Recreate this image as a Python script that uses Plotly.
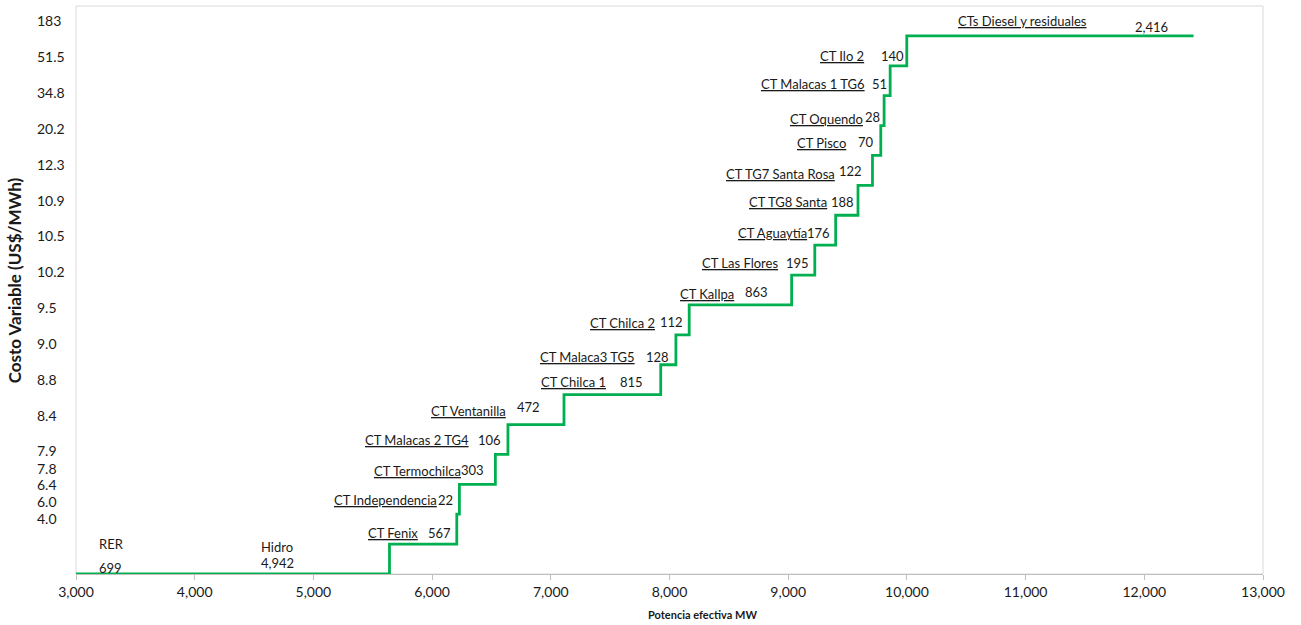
import plotly.graph_objects as go

# ---------------- data ----------------
plants = ["RER", "Hidro", "CT Fenix", "CT Independencia", "CT Termochilca",
          "CT Malacas 2 TG4", "CT Ventanilla", "CT Chilca 1", "CT Malaca3 TG5",
          "CT Chilca 2", "CT Kallpa", "CT Las Flores", "CT Aguaytía",
          "CT TG8 Santa", "CT TG7 Santa Rosa", "CT Pisco", "CT Oquendo",
          "CT Malacas 1 TG6", "CT Ilo 2", "CTs Diesel y residuales"]
capacity_mw = [699, 4942, 567, 22, 303, 106, 472, 815, 128, 112, 863, 195,
               176, 188, 122, 70, 28, 51, 140, 2416]
# merit-order level of each block (RER and Hidro share the base level)
merit_level = [0, 0, 1, 2, 3, 4, 5, 6, 7, 8, 9, 10, 11, 12, 13, 14, 15, 16, 17, 18]

cost_tick_labels = ["183", "51.5", "34.8", "20.2", "12.3", "10.9", "10.5", "10.2",
                    "9.5", "9.0", "8.8", "8.4", "7.9", "7.8", "6.4", "6.0", "4.0"]

# ---------------- layout / styling constants ----------------
cost_tick_pos = [18.51, 17.31, 16.11, 14.91, 13.71, 12.51, 11.31, 10.11,
                 8.91, 7.71, 6.51, 5.31, 4.13, 3.54, 3.0, 2.42, 1.84]
# pixel offsets of the labels of the CT blocks (relative to the block end)
value_dx = [-4, -4, -9, -5, -22, -16, -5, -4, -22, -4, -4, -2, -8, -5, -2, -1, -1, -24]
value_dy = [11, 14, 14, 14, 18, 13, 8, 13, 13, 12, 12, 13, 14, 13, 9, 12, 10, 9]
name_dx = [-37, -20, -32, -37, -56, -53, -39, -32, -56, -35, -27, -29, -35, -33, -19, -23, -41, -105]
name_dy = [11, 14, 13, 14, 14, 13, 8, 12, 11, 12, 12, 13, 11, 12, 7, 12, 10, 15]

X_MIN, X_MAX = 3000, 13000
Y_MIN, Y_MAX = 0, 19
GREEN = "#00B050"
FONT = "Lato"
TXT = "#1a1a1a"

# cumulative positions
starts = []
acc = 0
for c in capacity_mw:
    starts.append(acc)
    acc += c
ends = [s + c for s, c in zip(starts, capacity_mw)]

xs = starts + [ends[-1]]
ys = merit_level + [merit_level[-1]]

fig = go.Figure()
fig.add_trace(go.Scatter(x=xs, y=ys, mode="lines", line_shape="hv",
                         line=dict(color=GREEN, width=2.8),
                         hoverinfo="skip", showlegend=False))

ann = []
lab_font = dict(family=FONT, size=13, color=TXT)

# RER label (left aligned near the axis start)
ann.append(dict(x=X_MIN, y=merit_level[0], text=plants[0], showarrow=False,
                xanchor="left", yanchor="middle", xshift=21, yshift=30, font=lab_font))
ann.append(dict(x=X_MIN, y=merit_level[0], text=f"{capacity_mw[0]:,}", showarrow=False,
                xanchor="left", yanchor="middle", xshift=21, yshift=6, font=lab_font))
# Hidro label
ann.append(dict(x=ends[1], y=merit_level[1], text=plants[1], showarrow=False,
                xanchor="center", yanchor="middle", xshift=-112, yshift=27, font=lab_font))
ann.append(dict(x=ends[1], y=merit_level[1], text=f"{capacity_mw[1]:,}", showarrow=False,
                xanchor="center", yanchor="middle", xshift=-112, yshift=11, font=lab_font))

for k, i in enumerate(range(2, len(plants))):
    ann.append(dict(x=ends[i], y=merit_level[i], text=f"<u>{plants[i]}</u>",
                    showarrow=False, xanchor="right", yanchor="middle",
                    xshift=name_dx[k], yshift=name_dy[k], font=lab_font))
    ann.append(dict(x=ends[i], y=merit_level[i], text=f"{capacity_mw[i]:,}",
                    showarrow=False, xanchor="right", yanchor="middle",
                    xshift=value_dx[k], yshift=value_dy[k], font=lab_font))

# y tick labels (left aligned, as in the original)
for lbl, pos in zip(cost_tick_labels, cost_tick_pos):
    ann.append(dict(xref="paper", x=0, y=pos, text=lbl, showarrow=False,
                    xanchor="left", yanchor="middle", xshift=-41,
                    font=dict(family=FONT, size=14, color=TXT)))

# axis titles
ann.append(dict(xref="paper", yref="paper", x=-0.052, y=0.5, text="<b>Costo Variable (US$/MWh)</b>",
                textangle=-90, showarrow=False, xanchor="center", yanchor="middle", yshift=10,
                font=dict(family=FONT, size=17, color=TXT)))
ann.append(dict(xref="paper", yref="paper", x=0.528, y=0, text="<b>Potencia efectiva MW</b>",
                showarrow=False, xanchor="center", yanchor="middle", yshift=-40,
                font=dict(family=FONT, size=11, color=TXT)))

fig.update_layout(
    width=1301, height=625,
    margin=dict(l=76, r=38, t=6, b=51),
    paper_bgcolor="white", plot_bgcolor="white",
    annotations=ann,
    shapes=[dict(type="rect", xref="paper", yref="paper", x0=0, x1=1, y0=0, y1=1,
                 line=dict(color="#D9D9D9", width=1), layer="below")],
    xaxis=dict(range=[X_MIN, X_MAX], dtick=1000, tickformat=",d",
               showgrid=False, zeroline=False, showline=True, linecolor="#BFBFBF",
               linewidth=1, ticks="outside", ticklen=5, tickcolor="#BFBFBF",
               tickfont=dict(family=FONT, size=14, color=TXT)),
    yaxis=dict(range=[Y_MIN, Y_MAX], showgrid=False, zeroline=False,
               showticklabels=False, showline=False, ticks=""),
)

fig.write_html("out.html", config={"displayModeBar": False},
               post_script="document.body.style.margin='0';document.body.style.overflow='hidden';")
